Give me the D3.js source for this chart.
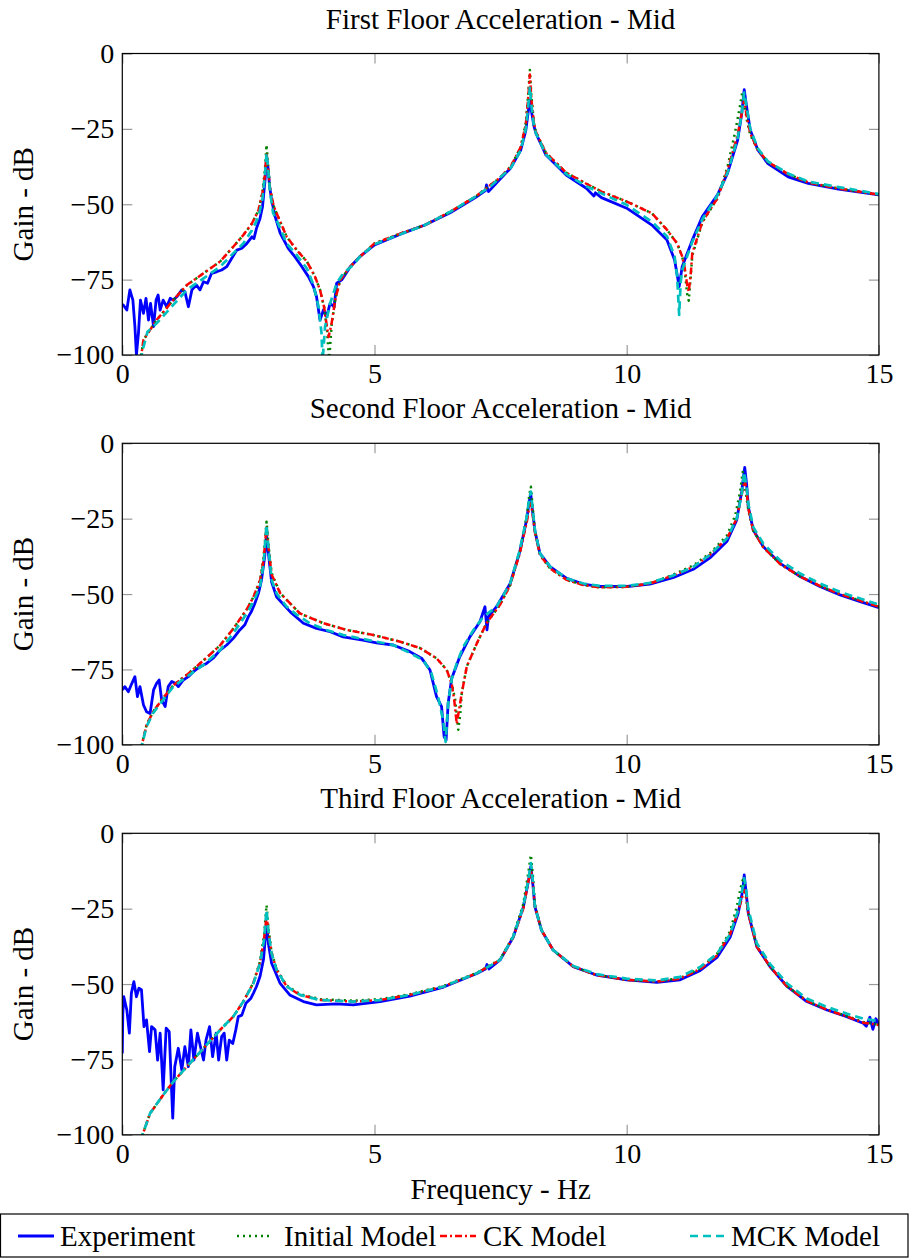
<!DOCTYPE html>
<html>
<head>
<meta charset="utf-8">
<script src="https://cdn.jsdelivr.net/npm/d3@7"></script>
<style>
  body { margin: 0; background: #fff; }
  text { font-family: "Liberation Serif", "Times New Roman", serif; }
</style>
</head>
<body>
<svg id="chart" width="909" height="1259"></svg>
<script>
// values, [frequency in Hz, gain in dB]
var titles = ['First Floor Acceleration - Mid', 'Second Floor Acceleration - Mid', 'Third Floor Acceleration - Mid'];
var seriesNames = ['Experiment', 'Initial Model', 'CK Model', 'MCK Model'];
var freqTicks = [0, 5, 10, 15];
var gainTicks = [0, -25, -50, -75, -100];

// first floor
var p1Experiment = [[0,-84],[0.02,-83.4],[0.09,-85.1],[0.15,-78.4],[0.21,-81.8],[0.25,-90.6],[0.28,-100],[0.32,-92.8],[0.36,-81.8],[0.42,-86.2],[0.47,-81.2],[0.52,-88.4],[0.56,-82.9],[0.62,-90.6],[0.67,-81.8],[0.71,-80.1],[0.75,-85.1],[0.81,-81.8],[0.88,-84],[0.95,-81.2],[1.01,-81.8],[1.08,-80.7],[1.18,-78.4],[1.24,-79],[1.31,-84],[1.38,-78.4],[1.47,-76.8],[1.54,-78.4],[1.61,-75.7],[1.69,-76.2],[1.77,-72.9],[1.87,-72.4],[1.97,-71.8],[2.07,-70.7],[2.17,-67.9],[2.27,-65.2],[2.37,-64.6],[2.47,-63],[2.57,-60.8],[2.61,-61.4],[2.66,-58],[2.73,-54.7],[2.78,-50.8],[2.83,-42],[2.86,-34.5],[2.89,-38],[2.92,-44],[2.96,-48.6],[3.03,-54.1],[3.13,-59.6],[3.29,-64.6],[3.42,-67.4],[3.56,-70.7],[3.69,-74],[3.79,-77.3],[3.85,-80.6],[3.92,-88.4],[3.99,-85],[4.05,-87.3],[4.12,-82.9],[4.2,-84],[4.25,-76.2],[4.35,-75.1],[4.52,-70.7],[4.71,-67.4],[5,-63.5],[5.5,-60],[6,-56.9],[6.5,-52.8],[7,-47.8],[7.2,-45.5],[7.22,-43.6],[7.26,-45.8],[7.5,-41.5],[7.7,-38],[7.9,-32],[8,-25.5],[8.05,-19],[8.08,-15.4],[8.11,-19],[8.16,-24],[8.2,-26.4],[8.4,-33.7],[8.8,-40.3],[9.2,-44.7],[9.35,-47.3],[9.38,-46.2],[9.5,-47.8],[10,-51.3],[10.5,-56.9],[10.8,-61.9],[10.95,-68.5],[11.04,-77.3],[11.1,-70.7],[11.3,-61.9],[11.5,-54.1],[11.8,-46.9],[12,-39.7],[12.2,-28.7],[12.28,-20],[12.33,-12],[12.38,-18],[12.45,-25.4],[12.6,-32],[12.8,-36.5],[13.2,-40.9],[13.6,-43.1],[14.2,-45],[15,-46.9]];
var p1Initial = [[0.36,-102],[0.42,-95],[0.68,-88.4],[1.01,-81.8],[1.28,-76.8],[1.61,-72.9],[1.94,-69],[2.2,-64.1],[2.4,-60.2],[2.57,-56.4],[2.7,-52],[2.78,-46],[2.83,-38],[2.86,-30.3],[2.89,-37],[2.93,-45],[3,-50.5],[3.06,-53],[3.26,-60.8],[3.46,-65.2],[3.66,-69],[3.82,-74],[3.92,-78.4],[4,-84],[4.06,-92],[4.1,-102],[4.15,-90],[4.22,-81.8],[4.32,-75.1],[4.52,-70.7],[4.71,-67.4],[5,-63],[5.5,-59.8],[6,-56.9],[6.5,-52.5],[7,-47.5],[7.5,-41],[7.7,-37.5],[7.9,-31],[8,-23],[8.05,-13],[8.08,-5.5],[8.11,-14],[8.16,-23],[8.2,-26],[8.4,-33],[8.8,-39.5],[9.2,-43.2],[9.5,-45.8],[10,-49.1],[10.5,-53],[10.8,-58.5],[11,-63],[11.1,-67.3],[11.15,-72],[11.2,-80],[11.23,-82],[11.27,-74],[11.3,-67],[11.5,-56],[11.8,-48],[12,-37.5],[12.15,-26],[12.24,-18],[12.29,-13],[12.33,-16],[12.38,-22],[12.45,-27],[12.6,-32],[12.8,-36],[13.2,-40],[13.6,-42.8],[14.2,-44.8],[15,-46.8]];
var p1CK = [[0.36,-102],[0.42,-95],[0.68,-88.4],[1.01,-81.8],[1.28,-76.8],[1.61,-72.9],[1.94,-69],[2.2,-64.1],[2.4,-60.2],[2.57,-56.4],[2.7,-52],[2.78,-46],[2.83,-40],[2.86,-33],[2.89,-38],[2.93,-45],[3,-50.5],[3.06,-53],[3.26,-60.8],[3.46,-65.2],[3.66,-69],[3.82,-74],[3.92,-78.4],[4,-84],[4.06,-91],[4.09,-94],[4.15,-89.5],[4.22,-81.8],[4.32,-75.1],[4.52,-70.7],[4.71,-67.4],[5,-63],[5.5,-59.8],[6,-56.9],[6.5,-52.5],[7,-47.5],[7.5,-41],[7.7,-37.5],[7.9,-31],[8,-23.5],[8.05,-14],[8.08,-7],[8.11,-15],[8.16,-23],[8.2,-26],[8.4,-33],[8.8,-39.5],[9.2,-43.2],[9.5,-45.8],[10,-49.1],[10.5,-53],[10.8,-58.5],[11,-63],[11.1,-67.3],[11.15,-71],[11.2,-77],[11.23,-79],[11.27,-73],[11.3,-66.3],[11.5,-55.8],[11.8,-48],[12,-38.5],[12.2,-27],[12.29,-19],[12.33,-15.4],[12.38,-21],[12.45,-26.5],[12.6,-32],[12.8,-36],[13.2,-40],[13.6,-42.8],[14.2,-44.8],[15,-46.8]];
var p1MCK = [[0.36,-102],[0.42,-97.3],[0.5,-92.3],[0.68,-89.5],[1.01,-83.4],[1.28,-78.4],[1.61,-74.6],[1.94,-70.7],[2.2,-66.3],[2.4,-63],[2.57,-58.6],[2.7,-54.2],[2.78,-48],[2.83,-40],[2.86,-33],[2.89,-38],[2.93,-46],[2.99,-52.9],[3.06,-55.3],[3.26,-63],[3.46,-66.9],[3.66,-71.3],[3.79,-76.8],[3.89,-84],[3.95,-92.8],[3.97,-102],[4.02,-90.6],[4.12,-82.9],[4.25,-76.2],[4.38,-72.9],[4.58,-70.1],[4.71,-67.4],[5,-63.3],[5.5,-60],[6,-56.9],[6.5,-52.5],[7,-47.5],[7.3,-44],[7.5,-41],[7.7,-38],[7.9,-32],[8,-25],[8.05,-17],[8.08,-11],[8.11,-17],[8.16,-24],[8.2,-26.4],[8.4,-33.5],[8.8,-40],[9.2,-44],[9.5,-46.4],[10,-50.2],[10.5,-55.8],[10.8,-60.7],[10.95,-67.3],[11,-74],[11.04,-86.7],[11.07,-76],[11.1,-71.8],[11.3,-62.5],[11.5,-55],[11.8,-47],[12,-39.5],[12.2,-28],[12.28,-20],[12.33,-13],[12.38,-18],[12.45,-25],[12.6,-31.5],[12.8,-35.8],[13.2,-39.8],[13.6,-42.5],[14.2,-44.3],[15,-46.6]];

// second floor
var p2Experiment = [[0,-81.8],[0.05,-80.7],[0.12,-82.4],[0.19,-79.6],[0.25,-77.4],[0.3,-84],[0.35,-80.7],[0.42,-86.8],[0.48,-89],[0.55,-89.6],[0.62,-81.8],[0.68,-79.6],[0.73,-78.5],[0.78,-85.1],[0.85,-87.3],[0.91,-80.7],[0.98,-79],[1.05,-79.6],[1.11,-80.7],[1.21,-78.5],[1.31,-77.4],[1.41,-75.7],[1.54,-74.1],[1.67,-73],[1.8,-71.3],[1.94,-68.6],[2.07,-66.9],[2.2,-64.7],[2.33,-61.9],[2.43,-60.2],[2.5,-57.5],[2.56,-55.8],[2.63,-53],[2.7,-49.7],[2.76,-45.3],[2.82,-38],[2.86,-31],[2.9,-37],[2.96,-46],[3.06,-51],[3.33,-55.9],[3.59,-59.7],[3.85,-61.4],[4.12,-62.5],[4.38,-64.2],[4.77,-65.3],[5.04,-66.2],[5.37,-66.9],[5.7,-69.1],[5.94,-71.4],[6.1,-75.2],[6.23,-84],[6.33,-87.3],[6.38,-97.3],[6.42,-98.4],[6.46,-86.2],[6.53,-78],[6.69,-70.8],[6.89,-64.2],[7.09,-59.2],[7.19,-54.2],[7.23,-61.9],[7.26,-57.5],[7.42,-54.2],[7.69,-46.5],[7.88,-36],[8.02,-25],[8.07,-19],[8.1,-17.1],[8.13,-22],[8.18,-29],[8.28,-36.5],[8.48,-40.9],[8.81,-44.8],[9.14,-46.7],[9.47,-47.5],[10,-47.5],[10.46,-46.7],[10.93,-44.5],[11.32,-41.8],[11.65,-38],[11.99,-32.5],[12.18,-25.5],[12.28,-16],[12.34,-8],[12.38,-14],[12.41,-21],[12.51,-28.8],[12.71,-34.3],[13.04,-39.8],[13.44,-44.2],[13.83,-47.5],[14.23,-50.3],[14.63,-52.5],[15,-54.5]];
var p2Initial = [[0.36,-102],[0.48,-93.5],[0.61,-89],[0.81,-84.5],[1.01,-80.3],[1.28,-76.8],[1.61,-72],[1.94,-67],[2.2,-61.5],[2.47,-55],[2.6,-51],[2.73,-45.5],[2.8,-38],[2.86,-26],[2.9,-34],[2.96,-43],[3.13,-49.7],[3.52,-56.4],[3.99,-59.7],[4.45,-61.9],[4.98,-63.6],[5.51,-65.8],[5.9,-67.9],[6.23,-71.3],[6.43,-75.1],[6.53,-79.6],[6.6,-85],[6.66,-95],[6.7,-90],[6.73,-82.9],[6.83,-74],[7.03,-66.3],[7.22,-59.7],[7.49,-53.5],[7.69,-47],[7.88,-36],[8.02,-24],[8.07,-17],[8.1,-14.4],[8.13,-20],[8.18,-29],[8.28,-37],[8.48,-41.5],[8.81,-45.3],[9.14,-47],[9.47,-47.8],[10,-47.6],[10.46,-46.5],[10.93,-43.5],[11.32,-40.5],[11.65,-36.5],[11.99,-30.5],[12.15,-24],[12.25,-16],[12.3,-9.5],[12.35,-15],[12.41,-22],[12.51,-29],[12.71,-34.5],[13.04,-40],[13.44,-44.2],[13.83,-47.3],[14.23,-50],[14.63,-52.2],[15,-54.2]];
var p2CK = [[0.36,-102],[0.48,-93.5],[0.61,-89],[0.81,-84.5],[1.01,-80.3],[1.28,-76.8],[1.61,-72],[1.94,-67],[2.2,-61.5],[2.47,-55],[2.6,-51],[2.73,-45.5],[2.8,-39],[2.86,-27.6],[2.9,-35],[2.96,-43.5],[3.13,-49.7],[3.52,-56.4],[3.99,-59.7],[4.45,-61.9],[4.98,-63.6],[5.51,-65.8],[5.9,-67.9],[6.23,-71.3],[6.43,-75.1],[6.53,-79.6],[6.58,-85],[6.63,-93],[6.68,-88],[6.73,-82.9],[6.83,-74],[7.03,-66.3],[7.22,-59.7],[7.49,-53.5],[7.69,-47],[7.88,-36.5],[8.02,-26],[8.07,-21],[8.1,-19.9],[8.13,-23],[8.18,-29.5],[8.28,-37],[8.48,-41.5],[8.81,-45.3],[9.14,-47],[9.47,-47.8],[10,-47.6],[10.46,-46.5],[10.93,-43.8],[11.32,-41],[11.65,-37],[11.99,-31.5],[12.18,-25],[12.28,-17],[12.34,-12.2],[12.38,-16],[12.41,-21.5],[12.51,-29],[12.71,-34.5],[13.04,-40],[13.44,-44.2],[13.83,-47.3],[14.23,-50],[14.63,-52.2],[15,-54.2]];
var p2MCK = [[0.36,-102],[0.48,-94],[0.61,-89.5],[0.81,-85.1],[1.01,-80.7],[1.28,-77.4],[1.61,-73.5],[1.94,-68.6],[2.2,-63],[2.47,-56.4],[2.6,-52.5],[2.73,-47.5],[2.8,-40],[2.86,-27],[2.9,-35],[2.96,-45.3],[3.06,-49.8],[3.26,-54.2],[3.46,-56.9],[3.72,-59.7],[4.05,-61.9],[4.38,-63.6],[4.71,-64.7],[5.04,-65.8],[5.37,-66.9],[5.7,-69.5],[5.97,-72],[6.13,-76.3],[6.26,-84],[6.36,-91.8],[6.41,-99],[6.46,-86.2],[6.53,-78.2],[6.63,-73],[6.76,-67.5],[6.96,-62],[7.16,-57.5],[7.42,-54.2],[7.69,-46.5],[7.88,-35.4],[8.02,-24.3],[8.07,-18],[8.1,-16],[8.13,-21],[8.18,-28.8],[8.28,-36.5],[8.48,-40.9],[8.81,-44.8],[9.14,-46.5],[9.47,-47.3],[10,-47.3],[10.46,-46.3],[10.93,-43.8],[11.32,-41],[11.65,-37],[11.99,-31.5],[12.18,-25],[12.28,-17],[12.33,-9.5],[12.38,-15],[12.41,-20],[12.51,-27.8],[12.71,-33.3],[13.04,-38.8],[13.44,-43.2],[13.83,-46.5],[14.23,-49.3],[14.63,-51.5],[15,-53.5]];

// third floor
var p3Experiment = [[0,-73],[0.01,-60],[0.03,-54.2],[0.09,-58.6],[0.14,-66.3],[0.18,-53],[0.23,-49.2],[0.28,-54.2],[0.33,-51.4],[0.38,-51.9],[0.43,-64.1],[0.48,-61.9],[0.54,-72.4],[0.58,-64.1],[0.65,-65.2],[0.7,-75.2],[0.75,-66.3],[0.81,-85.1],[0.87,-64.6],[0.93,-65.8],[1,-94.5],[1.04,-77.4],[1.11,-71.3],[1.18,-78.5],[1.24,-70.8],[1.31,-77.4],[1.36,-65.2],[1.42,-75.2],[1.49,-66.3],[1.55,-70.8],[1.61,-75.2],[1.66,-68.6],[1.73,-64.1],[1.79,-74.1],[1.86,-66.3],[1.91,-75.2],[1.97,-67.4],[2.02,-66.3],[2.07,-75.2],[2.12,-68.6],[2.19,-69.7],[2.25,-65.2],[2.3,-60.8],[2.37,-60.3],[2.45,-56.4],[2.55,-54.7],[2.6,-53],[2.66,-50.8],[2.73,-47.5],[2.8,-41.8],[2.86,-29.8],[2.9,-37],[2.96,-43.1],[3.13,-49.8],[3.32,-53.6],[3.59,-55.8],[3.85,-56.9],[4.24,-56.6],[4.58,-56.9],[5.11,-55.8],[5.7,-54],[6.37,-51],[7.03,-46.5],[7.2,-45],[7.23,-43.5],[7.27,-45],[7.49,-42],[7.75,-34.5],[7.95,-24.5],[8.05,-16],[8.1,-11],[8.14,-17],[8.18,-24.3],[8.31,-32.1],[8.54,-38.7],[8.94,-44.2],[9.4,-47],[10,-48.6],[10.6,-49.4],[11.06,-48.6],[11.46,-45.5],[11.79,-41.2],[12.05,-34.5],[12.21,-26.5],[12.3,-19],[12.33,-13.8],[12.37,-20],[12.41,-26.5],[12.58,-37.6],[12.84,-44.2],[13.18,-50.8],[13.57,-55.8],[13.97,-58.6],[14.36,-60.8],[14.69,-63],[14.75,-64],[14.82,-61],[14.88,-65],[14.94,-61.5],[15,-63.5]];
var p3Initial = [[0.36,-102],[0.55,-92.9],[0.81,-86.8],[1.01,-82.4],[1.28,-77.4],[1.61,-71.3],[1.94,-65.2],[2.2,-60.8],[2.4,-55.8],[2.6,-49.5],[2.73,-42.5],[2.81,-34],[2.86,-23.8],[2.9,-32],[2.96,-39.5],[3.06,-45],[3.26,-50.5],[3.52,-53.3],[3.92,-55],[4.58,-55.5],[5.11,-55],[5.7,-53.4],[6.37,-50.6],[7.03,-46.3],[7.49,-41.8],[7.75,-34],[7.95,-23.5],[8.05,-13],[8.1,-7.2],[8.14,-14],[8.18,-23.5],[8.31,-32],[8.54,-38.7],[8.94,-44.2],[9.4,-47],[10,-48.6],[10.6,-49.2],[11.06,-48],[11.46,-44.8],[11.79,-40],[12.05,-32.5],[12.18,-24.5],[12.26,-18],[12.3,-15.5],[12.34,-18],[12.4,-25.5],[12.58,-37.6],[12.84,-44.2],[13.18,-50.8],[13.57,-55.5],[13.97,-58.4],[14.36,-60.6],[14.69,-62.6],[15,-63.5]];
var p3CK = [[0.36,-102],[0.55,-92.9],[0.81,-86.8],[1.01,-82.4],[1.28,-77.4],[1.61,-71.3],[1.94,-65.2],[2.2,-60.8],[2.4,-55.8],[2.6,-49.5],[2.73,-43],[2.81,-35],[2.86,-27.5],[2.9,-33],[2.96,-39.8],[3.06,-45.3],[3.26,-50.8],[3.52,-53.6],[3.92,-55.3],[4.58,-55.8],[5.11,-55.3],[5.7,-53.6],[6.37,-50.8],[7.03,-46.4],[7.49,-42],[7.75,-34.5],[7.95,-25],[8.05,-16],[8.1,-12.2],[8.14,-16.5],[8.18,-24.3],[8.31,-32.1],[8.54,-38.7],[8.94,-44.2],[9.4,-47],[10,-48.6],[10.6,-49.2],[11.06,-48.2],[11.46,-45],[11.79,-40.5],[12.05,-33.5],[12.21,-26],[12.3,-20.5],[12.34,-18.8],[12.38,-22],[12.41,-26.5],[12.58,-37.6],[12.84,-44.2],[13.18,-50.8],[13.57,-55.6],[13.97,-58.5],[14.36,-60.7],[14.69,-62.8],[15,-63.6]];
var p3MCK = [[0.36,-102],[0.55,-92.9],[0.81,-86.8],[1.01,-82.4],[1.28,-77.4],[1.61,-71.3],[1.94,-65.2],[2.2,-60.8],[2.4,-55.8],[2.6,-49.8],[2.73,-43.1],[2.81,-35.4],[2.86,-25.4],[2.9,-33],[2.96,-39.8],[3.06,-45.3],[3.26,-50.8],[3.52,-53.6],[3.92,-55.3],[4.58,-55.8],[5.11,-55.3],[5.7,-53.6],[6.37,-50.8],[7.03,-46.4],[7.49,-42],[7.75,-34.3],[7.95,-24.3],[8.05,-15.5],[8.1,-9.9],[8.14,-16],[8.18,-24.3],[8.31,-32.1],[8.54,-38.7],[8.94,-44],[9.4,-46.7],[10,-48.2],[10.6,-48.8],[11.06,-47.6],[11.46,-44.3],[11.79,-40],[12.05,-33.5],[12.21,-25.5],[12.3,-18],[12.33,-14.9],[12.37,-19],[12.41,-25],[12.58,-36.5],[12.84,-43.3],[13.18,-49.8],[13.57,-54.8],[13.97,-57.6],[14.36,-59.8],[14.69,-61.5],[15,-62.3]];

var panels = [
  [p1Experiment, p1Initial, p1CK, p1MCK],
  [p2Experiment, p2Initial, p2CK, p2MCK],
  [p3Experiment, p3Initial, p3CK, p3MCK]
];

// styles of the four series
var colors = ['#0000ff', '#008000', '#ff0000', '#00bfbf'];
var dashes = [null, '2,4', '7,3,2,3', '8,5'];
var widths = [2.8, 2.5, 2.5, 2.7];

var left = 122.3, plotW = 756.6, plotH = 301.5;
var tops = [53.5, 443.3, 833.3];
var fontSize = 29, tickFont = 28;

var svg = d3.select('#chart');

var x = d3.scaleLinear().domain([0, 15]).range([left, left + plotW]);

panels.forEach(function(series, i) {
  var top = tops[i];
  var y = d3.scaleLinear().domain([-100, 0]).range([top + plotH, top]);

  var g = svg.append('g');

  // clip so dips below -100 stop at the frame
  g.append('clipPath').attr('id', 'clip' + i)
    .append('rect')
      .attr('x', left).attr('y', top)
      .attr('width', plotW).attr('height', plotH);

  // ticks on all four sides, pointing in
  var axes = [
    [d3.axisLeft(y).tickValues(gainTicks), 'translate(' + left + ',0)', true],
    [d3.axisRight(y).tickValues(gainTicks), 'translate(' + (left + plotW) + ',0)', false],
    [d3.axisBottom(x).tickValues(freqTicks), 'translate(0,' + (top + plotH) + ')', true],
    [d3.axisTop(x).tickValues(freqTicks), 'translate(0,' + top + ')', false]
  ];
  axes.forEach(function(a) {
    var ax = a[0].tickSizeInner(-10).tickSizeOuter(0).tickPadding(8);
    if (!a[2]) ax.tickFormat('');
    var ag = g.append('g').attr('transform', a[1]).call(ax);
    ag.select('.domain').remove();
    ag.selectAll('.tick line').attr('stroke', '#9a9a9a').attr('stroke-width', 1.2);
    ag.selectAll('.tick text')
      .attr('fill', '#000')
      .attr('font-family', '"Liberation Serif", serif')
      .attr('font-size', tickFont);
  });

  var line = d3.line()
    .x(function(d) { return x(d[0]); })
    .y(function(d) { return y(d[1]); });

  var lines = g.append('g').attr('clip-path', 'url(#clip' + i + ')');
  series.forEach(function(data, k) {
    lines.append('path')
      .datum(data)
      .attr('fill', 'none')
      .attr('stroke', colors[k])
      .attr('stroke-width', widths[k])
      .attr('stroke-dasharray', dashes[k])
      .attr('stroke-linejoin', 'round')
      .attr('d', line);
  });

  // frame
  g.append('rect')
    .attr('x', left).attr('y', top)
    .attr('width', plotW).attr('height', plotH)
    .attr('fill', 'none')
    .attr('stroke', '#000')
    .attr('stroke-width', 1.2);

  // title
  g.append('text')
    .attr('x', left + plotW / 2)
    .attr('y', top - 25)
    .attr('text-anchor', 'middle')
    .style('font-size', fontSize + 'px')
    .text(titles[i]);

  // y label
  g.append('text')
    .attr('transform', 'translate(33,' + (top + plotH / 2) + ') rotate(-90)')
    .attr('text-anchor', 'middle')
    .style('font-size', fontSize + 'px')
    .text('Gain - dB');
});

// x label under the last panel
svg.append('text')
  .attr('x', left + plotW / 2)
  .attr('y', tops[2] + plotH + 64)
  .attr('text-anchor', 'middle')
  .style('font-size', fontSize + 'px')
  .text('Frequency - Hz');

// legend
var legend = svg.append('g');
legend.append('rect')
  .attr('x', 0.5).attr('y', 1214)
  .attr('width', 907.5).attr('height', 43)
  .attr('fill', '#fff').attr('stroke', '#000').attr('stroke-width', 1.2);

var legendLineX = [18, 237, 440, 690];
var legendTextX = [60, 284, 483, 731];
seriesNames.forEach(function(name, k) {
  legend.append('line')
    .attr('x1', legendLineX[k]).attr('x2', legendLineX[k] + 36)
    .attr('y1', 1236).attr('y2', 1236)
    .attr('stroke', colors[k])
    .attr('stroke-width', widths[k])
    .attr('stroke-dasharray', dashes[k]);
  legend.append('text')
    .attr('x', legendTextX[k])
    .attr('y', 1246)
    .style('font-size', fontSize + 'px')
    .text(name);
});
</script>
</body>
</html>
